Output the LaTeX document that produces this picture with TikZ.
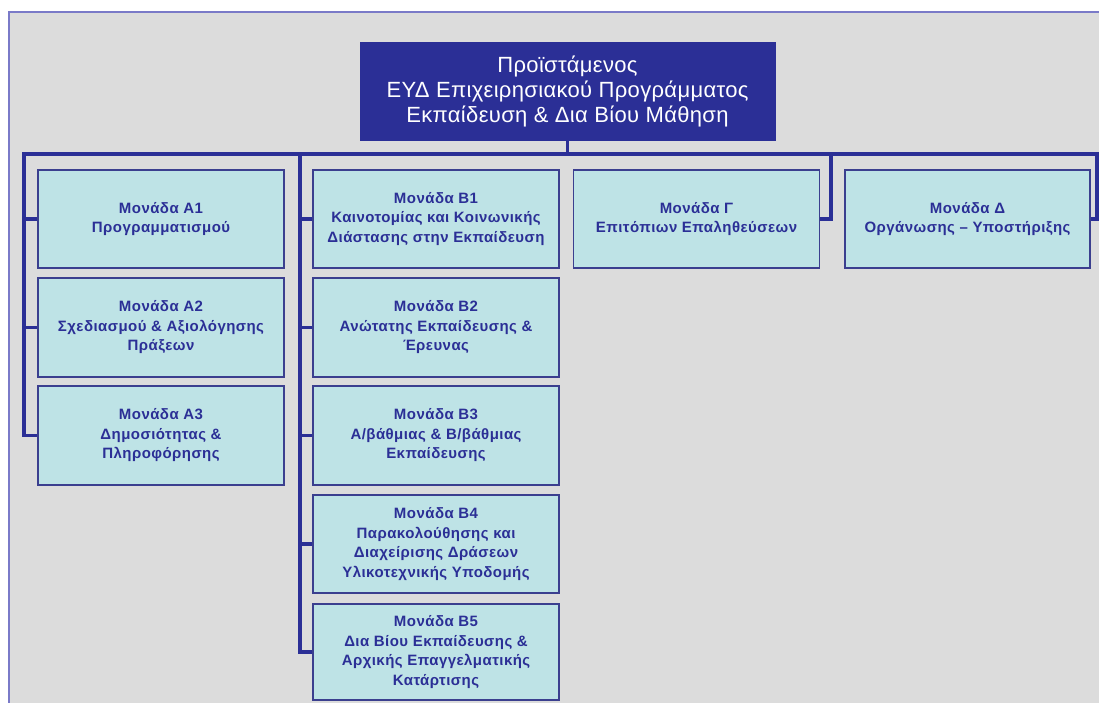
\documentclass[tikz,border=0pt]{standalone}
\usepackage{fontspec}
\setmainfont{Liberation Sans}
\definecolor{panelgray}{HTML}{DCDCDC}
\definecolor{framerim}{HTML}{7A7AC8}
\definecolor{unitfill}{HTML}{BEE3E6}
\definecolor{unitrim}{HTML}{3B3F8F}
\definecolor{orgblue}{HTML}{2B2F96}
\tikzset{
  unit/.style={draw=unitrim, line width=1.2pt, fill=unitfill, text=orgblue,
    font=\bfseries\fontsize{15}{19.5}\selectfont\addfontfeatures{LetterSpace=3}, align=center,
    minimum width=246pt, inner sep=2pt},
  head/.style={draw=orgblue, fill=orgblue, text=white,
    font=\fontsize{22}{25}\selectfont\addfontfeatures{LetterSpace=1.5}, align=center,
    minimum width=415pt, minimum height=98pt},
  link/.style={draw=orgblue, line width=3.5pt}
}
\begin{document}
\begin{tikzpicture}[x=1pt,y=-1pt]
      \useasboundingbox (0,0) rectangle (1099,702);
      \draw[fill=panelgray, draw=framerim, line width=1.5pt] (9,12) rectangle (1120,720);
      % supervisor
      \node[head] (head) at (567.5,91)
        {Προϊστάμενος\\ΕΥΔ Επιχειρησιακού Προγράμματος\\Εκπαίδευση \& Δια Βίου Μάθηση};
      % units
      \draw
        (161,219) node[unit, minimum height=98pt] (a1){Μονάδα Α1\\Προγραμματισμού}
        (161,327.5) node[unit, minimum height=99pt] (a2){Μονάδα Α2\\Σχεδιασμού \& Αξιολόγησης\\Πράξεων}
        (161,435.5) node[unit, minimum height=99pt] (a3){Μονάδα Α3\\Δημοσιότητας \&\\Πληροφόρησης}
        (436,219) node[unit, minimum height=98pt] (b1){Μονάδα Β1\\Καινοτομίας και Κοινωνικής\\Διάστασης στην Εκπαίδευση}
        (436,327.5) node[unit, minimum height=99pt] (b2){Μονάδα Β2\\Ανώτατης Εκπαίδευσης \&\\Έρευνας}
        (436,435.5) node[unit, minimum height=99pt] (b3){Μονάδα Β3\\Α/βάθμιας \& Β/βάθμιας\\Εκπαίδευσης}
        (436,544) node[unit, minimum height=98pt] (b4){Μονάδα Β4\\Παρακολούθησης και\\Διαχείρισης Δράσεων\\Υλικοτεχνικής Υποδομής}
        (436,652) node[unit, minimum height=96pt] (b5){Μονάδα Β5\\Δια Βίου Εκπαίδευσης \&\\Αρχικής Επαγγελματικής\\Κατάρτισης}
        (696.5,219) node[unit, minimum height=98pt] (g){Μονάδα Γ\\Επιτόπιων Επαληθεύσεων}
        (967.5,219) node[unit, minimum height=98pt, minimum width=245pt] (d){Μονάδα Δ\\Οργάνωσης -- Υποστήριξης};
      \coordinate (busL) at (22,154);
      \coordinate (busR) at (1110,154);
      \coordinate (aTop) at (24,154);
      \coordinate (bTop) at (300,154);
      \coordinate (gTop) at (831,154);
      \coordinate (dTop) at (1097,154);
      \begin{scope}[link]
        \draw (busL) -- (busR);
        \draw (head.south) -- (head.south |- busL);
        \draw (aTop) |- (a3.west);
        \draw (aTop |- a1.west) -- (a1.west);
        \draw (aTop |- a2.west) -- (a2.west);
        \draw (bTop) |- (b5.west);
        \draw (bTop |- b1.west) -- (b1.west);
        \draw (bTop |- b2.west) -- (b2.west);
        \draw (bTop |- b3.west) -- (b3.west);
        \draw (bTop |- b4.west) -- (b4.west);
        \draw (gTop) |- (g.east);
        \draw (dTop) |- (d.east);
      \end{scope}
    \end{tikzpicture}
\end{document}
